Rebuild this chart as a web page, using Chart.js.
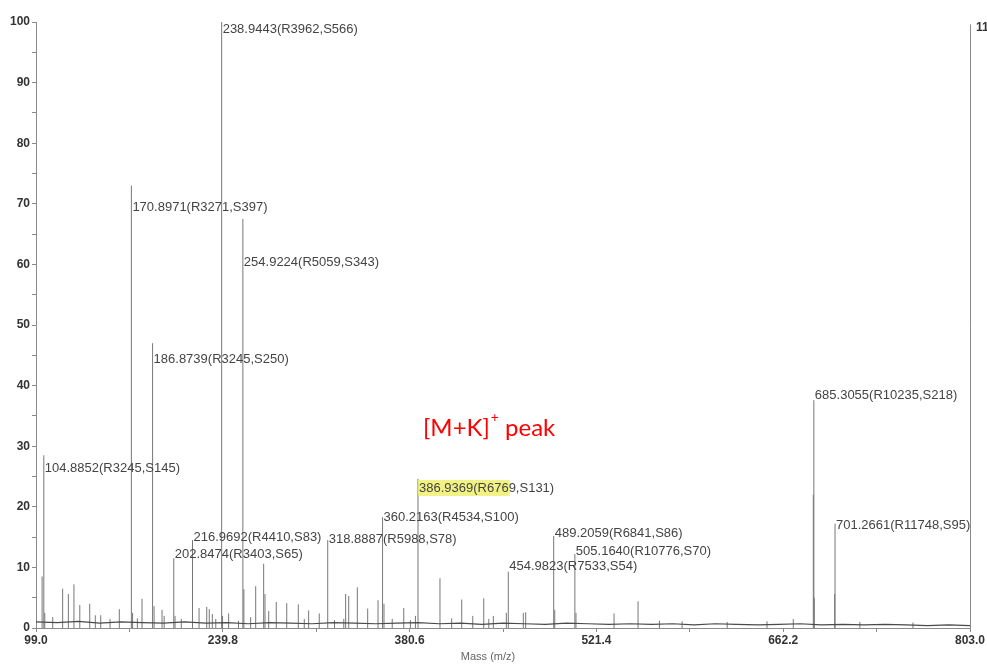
<!DOCTYPE html>
<html>
<head>
<meta charset="utf-8">
<script src="https://cdn.jsdelivr.net/npm/chart.js@4/dist/chart.umd.min.js"></script>
<style>
  html, body { margin: 0; padding: 0; background: #ffffff; }
  #wrap { width: 987px; height: 664px; position: relative; }
  canvas { display: block; }
</style>
</head>
<body>
<div id="wrap"><canvas id="spectrum" width="987" height="664"></canvas></div>
<script>
// Annotated peaks: m/z, relative intensity (%), resolution, S/N
const labeledMz        = [104.8852, 170.8971, 186.8739, 202.8474, 216.9692, 238.9443, 254.9224, 318.8887, 360.2163, 386.9369, 454.9823, 489.2059, 505.1640, 685.3055, 701.2661];
const labeledIntensity = [28.5, 73.0, 47.0, 11.5, 14.5, 100.0, 67.5, 14.5, 18.3, 24.6, 9.3, 15.2, 12.2, 37.6, 17.2];
const labeledRes       = [3245, 3271, 3245, 3403, 4410, 3962, 5059, 5988, 4534, 6769, 7533, 6841, 10776, 10235, 11748];
const labeledSN        = [145, 397, 250, 65, 83, 566, 343, 78, 100, 131, 54, 86, 70, 218, 95];

// Minor, unannotated peaks: m/z and relative intensity (%)
const minorMz = [103.6, 105.6, 111.6, 119.1, 123.4, 127.6, 132.0, 139.5, 143.7, 147.8, 154.8, 161.8, 171.8, 175.4, 178.9,
                 188.0, 194.0, 195.6, 203.8, 208.5, 221.9, 227.7, 229.6, 231.9, 234.5, 239.6, 244.2, 251.6, 255.7, 260.8,
                 264.6, 270.6, 271.6, 274.4, 280.1, 288.0, 296.7, 301.2, 304.5, 312.5, 324.0, 331.0, 332.4, 334.7, 341.2,
                 349.0, 356.8, 361.3, 367.5, 376.2, 381.2, 385.0, 403.5, 412.3, 419.9, 428.2, 436.5, 440.3, 443.7, 453.5,
                 466.3, 468.1, 490.0, 506.0, 534.7, 552.8, 568.9, 586.0, 620.0, 650.0, 669.8, 684.9, 685.6, 701.0, 720.0, 760.0];
const minorIntensity = [8.5, 2.5, 1.8, 6.5, 5.6, 7.2, 3.8, 4.0, 2.1, 2.1, 1.5, 3.1, 2.5, 1.6, 4.8,
                        3.6, 3.0, 2.0, 2.0, 1.5, 3.3, 3.5, 3.1, 2.3, 1.5, 2.0, 2.4, 1.2, 6.4, 1.8,
                        6.9, 10.6, 5.6, 2.8, 4.3, 4.1, 3.9, 1.5, 2.9, 2.4, 1.3, 1.5, 5.6, 5.3, 6.7,
                        3.2, 4.6, 4.0, 1.5, 3.3, 1.3, 2.0, 8.2, 1.6, 4.7, 2.0, 4.9, 1.5, 2.0, 2.5,
                        2.5, 2.6, 3.0, 2.5, 2.4, 4.4, 1.2, 1.1, 1.0, 1.1, 1.5, 22.0, 5.0, 5.6, 1.0, 0.9];

// Chemical noise baseline
const baselineMz    = [99, 115, 131, 147, 163, 179, 195, 211, 227, 243, 259, 275, 291, 307, 323, 339, 355, 371, 387, 403, 419, 435, 451,
                       467, 483, 499, 515, 531, 547, 563, 579, 595, 611, 627, 643, 659, 675, 691, 707, 723, 739, 755, 771, 787, 803];
const baselineLevel = [1.0, 0.9, 1.1, 0.8, 1.0, 0.9, 0.8, 1.0, 0.8, 0.9, 0.7, 0.9, 0.8, 0.7, 0.9, 0.8, 0.7, 0.8, 0.9, 0.7, 0.8, 0.6, 0.8,
                       0.7, 0.6, 0.8, 0.7, 0.6, 0.7, 0.6, 0.7, 0.5, 0.7, 0.6, 0.5, 0.6, 0.7, 0.5, 0.6, 0.5, 0.6, 0.5, 0.4, 0.5, 0.4];

// Axis ticks
const xTickValues  = [99.0, 169.4, 239.8, 310.2, 380.6, 451.0, 521.4, 591.8, 662.2, 732.6, 803.0];
const xTickLabeled = [99.0, 239.8, 380.6, 521.4, 662.2, 803.0];
const yTickValues  = [0, 5, 10, 15, 20, 25, 30, 35, 40, 45, 50, 55, 60, 65, 70, 75, 80, 85, 90, 95, 100];
const yTickLabeled = [0, 10, 20, 30, 40, 50, 60, 70, 80, 90, 100];

// Vertical pixel shift of each peak label relative to its peak apex
const labelShift = [13, 22, 16, -4, -3, 7, 43, -1, 0, 9, -5, -2, -3, -5, 2];

// Build stick spectrum (each peak is a vertical segment, separated by gaps)
function sticks(mzs, ints) {
  const pts = [];
  mzs.forEach((mz, i) => {
    pts.push({ x: mz, y: 0 }, { x: mz, y: ints[i] }, { x: mz, y: null });
  });
  return pts;
}

const FONT = '"Liberation Sans", Arial, sans-serif';

const peakLabels = {
  id: 'peakLabels',
  afterDatasetsDraw(chart) {
    const { ctx, scales: { x, y }, chartArea } = chart;
    ctx.save();
    ctx.font = '13px ' + FONT;
    ctx.textBaseline = 'middle';
    ctx.textAlign = 'left';
    labeledMz.forEach((mz, i) => {
      const px = x.getPixelForValue(mz) + 1;
      const py = y.getPixelForValue(labeledIntensity[i]) + labelShift[i];
      const text = mz.toFixed(4) + '(R' + labeledRes[i] + ',S' + labeledSN[i] + ')';
      if (mz === 386.9369) {
        const hl = mz.toFixed(4) + '(R676';
        const w = ctx.measureText(hl).width;
        ctx.fillStyle = 'rgba(238, 238, 110, 0.85)';
        ctx.fillRect(px - 1, py - 8, w + 2, 16);
      }
      ctx.fillStyle = '#444444';
      ctx.fillText(text, px, py);
    });

    // [M+K]+ annotation next to the 386.9369 peak
    const ax = x.getPixelForValue(386.9369) + 5;
    const ay = y.getPixelForValue(33);
    const big = '24px Lato, ' + FONT;
    const sup = '14px Lato, ' + FONT;
    ctx.fillStyle = '#ff0000';
    ctx.font = big;
    ctx.fillText('[M+K]', ax, ay);
    const w1 = ctx.measureText('[M+K]').width;
    ctx.font = sup;
    ctx.fillText('+', ax + w1 + 1, ay - 11);
    const w2 = ctx.measureText('+').width;
    ctx.font = big;
    ctx.fillText(' peak', ax + w1 + w2 + 1, ay);

    // axis title under the mass axis
    ctx.fillStyle = '#666666';
    ctx.font = '11px ' + FONT;
    ctx.textAlign = 'center';
    ctx.fillText('Mass (m/z)', (chartArea.left + chartArea.right) / 2 - 15, chart.height - 7);
    ctx.textAlign = 'left';

    // right frame line with clipped absolute-intensity label
    ctx.strokeStyle = '#8a8a8a';
    ctx.lineWidth = 1;
    ctx.beginPath();
    ctx.moveTo(Math.round(chartArea.right) + 0.5, y.getPixelForValue(99.6));
    ctx.lineTo(Math.round(chartArea.right) + 0.5, chartArea.bottom);
    ctx.stroke();
    ctx.fillStyle = '#333333';
    ctx.font = 'bold 12px ' + FONT;
    ctx.fillText('11', chartArea.right + 6, y.getPixelForValue(99));
    ctx.restore();
  }
};

new Chart(document.getElementById('spectrum'), {
  type: 'line',
  data: {
    datasets: [
      {
        label: 'peaks',
        data: sticks(labeledMz.concat(minorMz), labeledIntensity.concat(minorIntensity)),
        borderColor: '#777777',
        borderWidth: 1,
        pointRadius: 0,
        spanGaps: false,
        tension: 0,
        order: 2
      },
      {
        label: 'baseline',
        data: baselineMz.map((mz, i) => ({ x: mz, y: baselineLevel[i] })),
        borderColor: '#4a4a4a',
        borderWidth: 1.2,
        pointRadius: 0,
        tension: 0,
        order: 1
      }
    ]
  },
  options: {
    responsive: false,
    animation: false,
    devicePixelRatio: 1,
    layout: { padding: { top: 22, right: 17, left: 0, bottom: 0 } },
    plugins: { legend: { display: false }, tooltip: { enabled: false } },
    events: [],
    scales: {
      x: {
        type: 'linear',
        min: 99,
        max: 803,
        afterBuildTicks: (s) => { s.ticks = xTickValues.map(v => ({ value: v })); },
        afterFit: (s) => { s.height = 36; },
        border: { display: true, color: '#8a8a8a', width: 1 },
        grid: { drawOnChartArea: false, drawTicks: true, tickLength: 4, color: '#8a8a8a' },
        ticks: {
          autoSkip: false,
          maxRotation: 0,
          padding: 1,
          color: '#333333',
          font: { family: FONT, size: 12, weight: 'bold' },
          callback: (v) => xTickLabeled.some(t => Math.abs(t - v) < 1e-6) ? Number(v).toFixed(1) : ''
        }
      },
      y: {
        type: 'linear',
        min: 0,
        max: 100,
        afterBuildTicks: (s) => { s.ticks = yTickValues.map(v => ({ value: v })); },
        afterFit: (s) => { s.width = 36; },
        border: { display: true, color: '#8a8a8a', width: 1 },
        grid: { drawOnChartArea: false, drawTicks: true, tickLength: 4, color: '#8a8a8a' },
        ticks: {
          autoSkip: false,
          padding: 2,
          color: '#333333',
          font: { family: FONT, size: 12, weight: 'bold' },
          callback: (v) => yTickLabeled.includes(v) ? String(v) : ''
        }
      }
    }
  },
  plugins: [peakLabels]
});
</script>
</body>
</html>
